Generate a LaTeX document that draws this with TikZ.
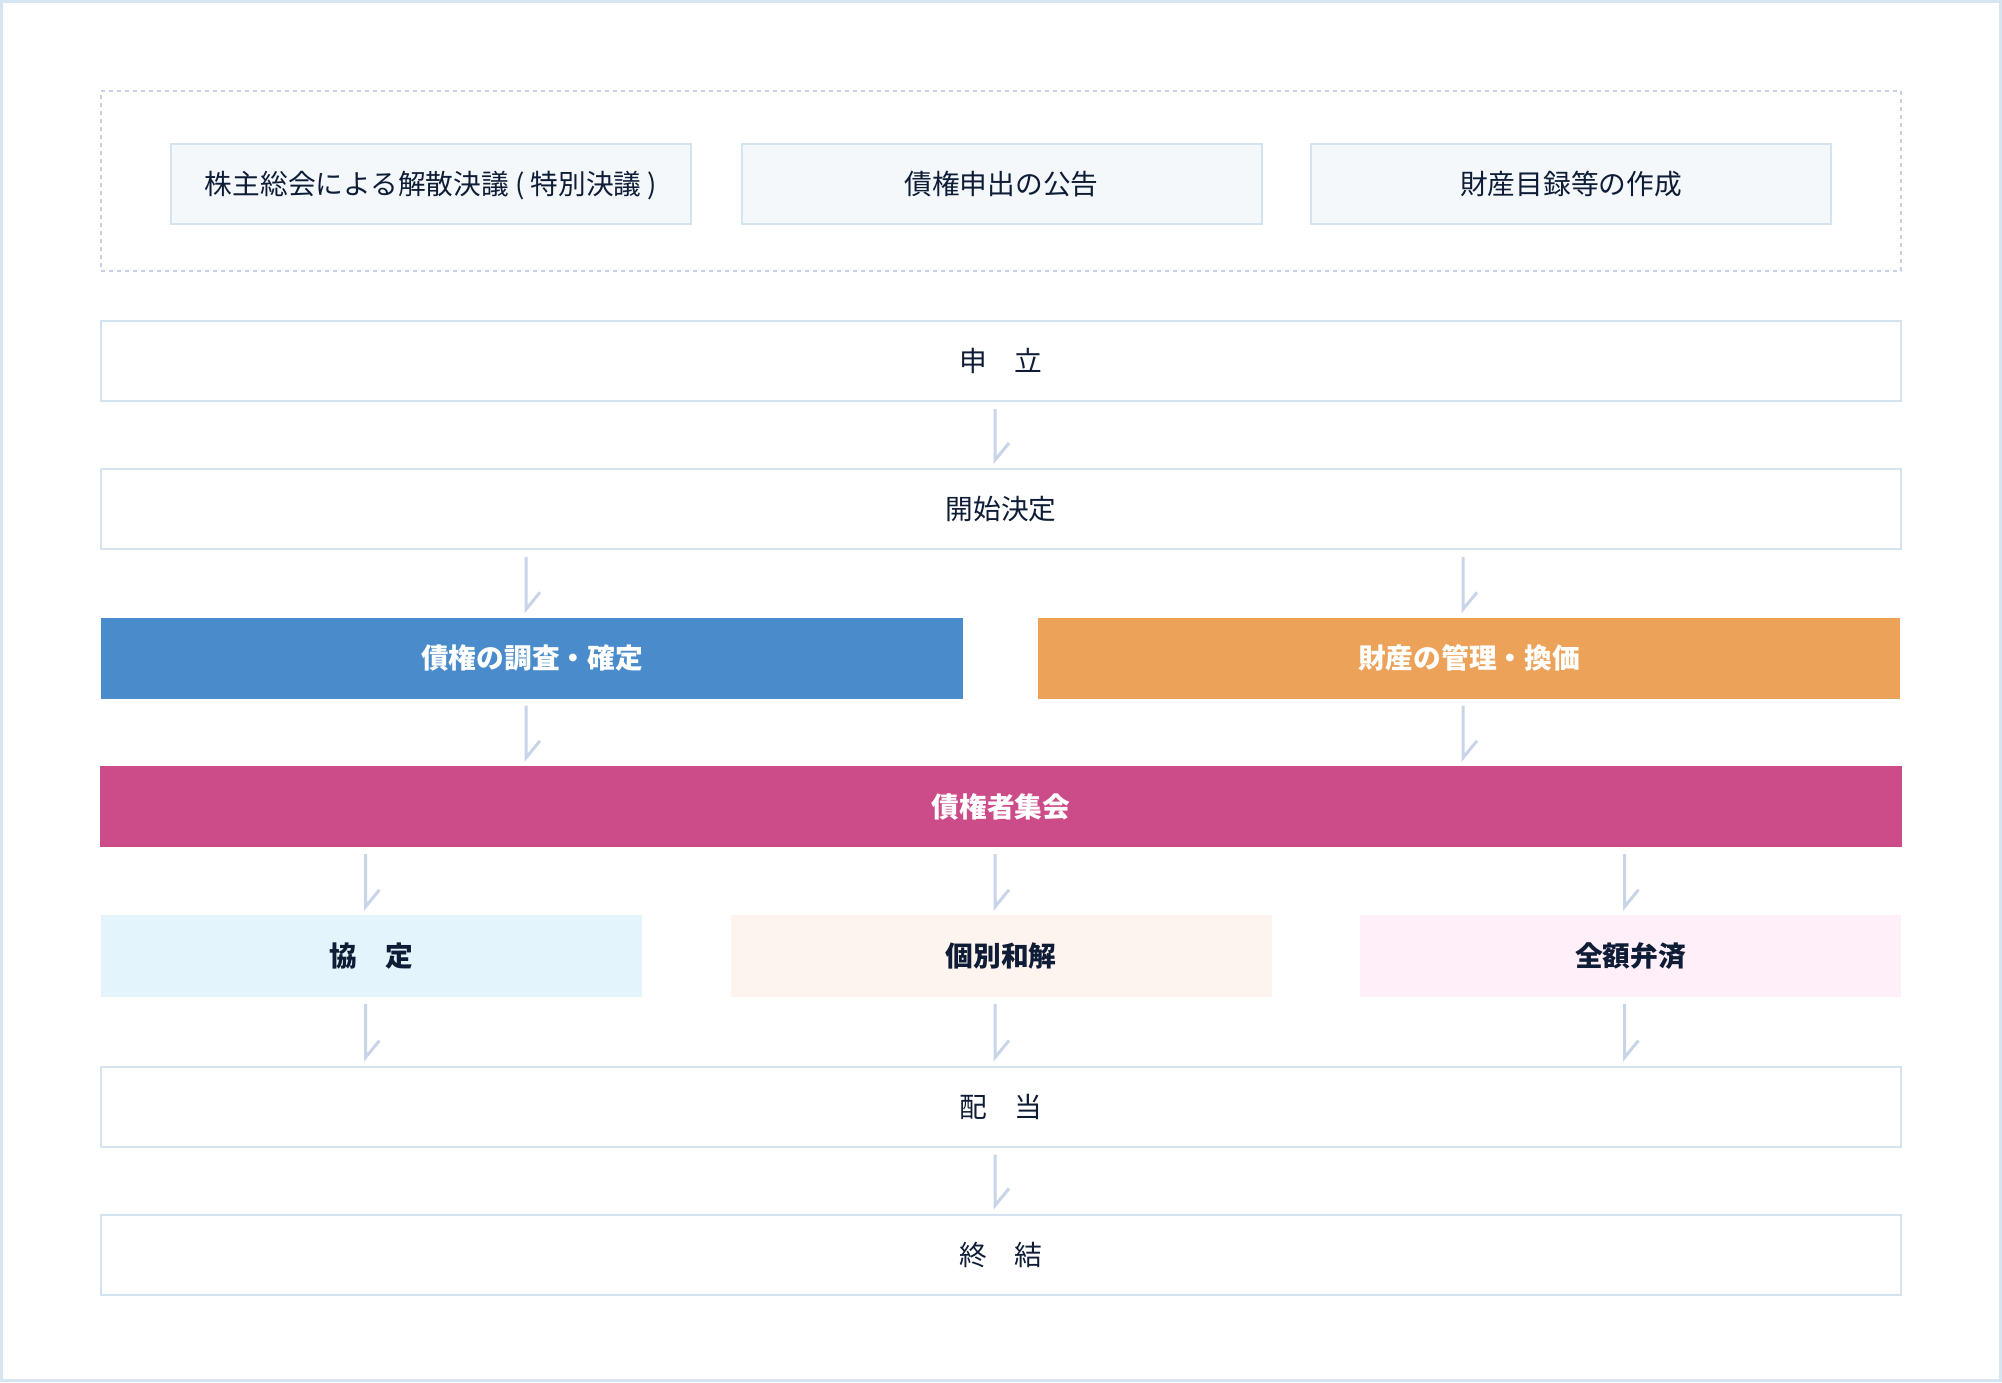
\documentclass[tikz,border=0pt]{standalone}
\usepackage{fontspec}
\setmainfont{Noto Sans CJK JP}
\usepackage{tikz}

\definecolor{frame}{HTML}{D5E5F2}
\definecolor{boxline}{HTML}{D3E3F0}
\definecolor{dashline}{HTML}{C9CEE2}
\definecolor{noticebg}{HTML}{F4F8FB}
\definecolor{ink}{HTML}{0E1C36}
\definecolor{claimc}{HTML}{4A8CCB}
\definecolor{assetc}{HTML}{EDA25A}
\definecolor{meetc}{HTML}{CC4C8A}
\definecolor{agreebg}{HTML}{E3F4FD}
\definecolor{settlebg}{HTML}{FDF3EF}
\definecolor{repaybg}{HTML}{FEEFF8}
\definecolor{flowc}{HTML}{C8D4E8}

\begin{document}
\begin{tikzpicture}[x=1pt, y=-1pt,
  label/.style={font=\fontsize{27.7}{32}\selectfont, inner sep=0pt, text height=24pt, text depth=3pt},
  plain/.style={label, draw=boxline, line width=2pt, fill=white, text=ink, minimum width=1800pt, minimum height=80pt},
  notice/.style={plain, fill=noticebg, minimum width=520pt},
  stage/.style={label, font=\fontsize{27.7}{32}\selectfont\bfseries, text=white, minimum height=81pt},
  result/.style={label, font=\fontsize{27.7}{32}\selectfont\bfseries, text=ink, minimum width=541pt, minimum height=82pt},
  group/.style={draw=dashline, line width=1.5pt, dash pattern=on 4pt off 4pt, minimum width=1800pt, minimum height=180pt},
  flow/.style={draw=flowc, line width=3pt, line join=miter, miter limit=10}]
\useasboundingbox (0,0) rectangle (2002,1382);
\draw[frame, line width=3pt] (1.5,1.5) rectangle (2000.5,1380.5);

\node[group] (prep) at (1001,181) {};
\node[notice] (resolve) at (431,183.5) {株主総会による解散決議 ( 特別決議 )};
\node[notice] (announce) at (1001.5,183.5) {債権申出の公告};
\node[notice] (inventory) at (1571,183.5) {財産目録等の作成};

\node[plain] (petition) at (1001,361) {申　立};
\node[plain] (start) at (1001,509) {開始決定};
\node[stage, fill=claimc, minimum width=862pt] (claims) at (532,658) {債権の調査・確定};
\node[stage, fill=assetc, minimum width=862pt] (assets) at (1469,658) {財産の管理・換価};
\node[stage, fill=meetc, minimum width=1802pt] (meeting) at (1001,806.5) {債権者集会};
\node[result, fill=agreebg] (agree) at (371.5,956) {協　定};
\node[result, fill=settlebg] (settle) at (1001,956) {個別和解};
\node[result, fill=repaybg] (repay) at (1630.5,956) {全額弁済};
\node[plain] (payout) at (1001,1106.5) {配　当};
\node[plain] (finish) at (1001,1254.5) {終　結};

\draw[flow] ([xshift=-6pt,yshift=-7pt]petition.south) -- ([xshift=-6pt,yshift=8pt]start.north) -- ++(14,-17);
\draw[flow] ([xshift=-6pt,yshift=-7pt]start.south -| claims.north) -- ([xshift=-6pt,yshift=8pt]claims.north) -- ++(14,-17);
\draw[flow] ([xshift=-6pt,yshift=-7pt]start.south -| assets.north) -- ([xshift=-6pt,yshift=8pt]assets.north) -- ++(14,-17);
\draw[flow] ([xshift=-6pt,yshift=-7pt]claims.south) -- ([xshift=-6pt,yshift=8pt]meeting.north -| claims.south) -- ++(14,-17);
\draw[flow] ([xshift=-6pt,yshift=-7pt]assets.south) -- ([xshift=-6pt,yshift=8pt]meeting.north -| assets.south) -- ++(14,-17);
\draw[flow] ([xshift=-6pt,yshift=-7pt]meeting.south -| agree.north) -- ([xshift=-6pt,yshift=8pt]agree.north) -- ++(14,-17);
\draw[flow] ([xshift=-6pt,yshift=-7pt]meeting.south) -- ([xshift=-6pt,yshift=8pt]settle.north) -- ++(14,-17);
\draw[flow] ([xshift=-6pt,yshift=-7pt]meeting.south -| repay.north) -- ([xshift=-6pt,yshift=8pt]repay.north) -- ++(14,-17);
\draw[flow] ([xshift=-6pt,yshift=-7pt]agree.south) -- ([xshift=-6pt,yshift=8pt]payout.north -| agree.south) -- ++(14,-17);
\draw[flow] ([xshift=-6pt,yshift=-7pt]settle.south) -- ([xshift=-6pt,yshift=8pt]payout.north) -- ++(14,-17);
\draw[flow] ([xshift=-6pt,yshift=-7pt]repay.south) -- ([xshift=-6pt,yshift=8pt]payout.north -| repay.south) -- ++(14,-17);
\draw[flow] ([xshift=-6pt,yshift=-7pt]payout.south) -- ([xshift=-6pt,yshift=8pt]finish.north) -- ++(14,-17);
\end{tikzpicture}
\end{document}
